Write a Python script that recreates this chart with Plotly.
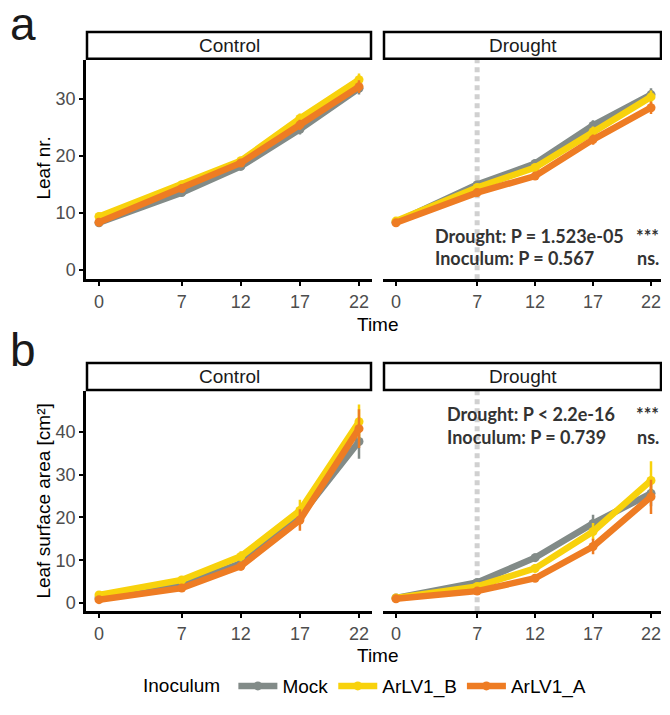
import plotly.graph_objects as go

times = [0, 7, 12, 17, 22]
series_names = ["Mock", "ArLV1_B", "ArLV1_A"]
series_colors = ["#828b88", "#f8d20c", "#ee7c23"]

# Leaf number (a)
leaf_ctrl_mock = [8.2, 13.5, 18.1, 24.6, 31.8]
leaf_ctrl_B = [9.3, 14.9, 19.1, 26.5, 33.3]
leaf_ctrl_A = [8.3, 14.2, 18.7, 25.4, 32.1]
leaf_dr_mock = [8.3, 14.9, 18.6, 25.3, 30.7]
leaf_dr_B = [8.5, 14.4, 17.9, 24.2, 30.3]
leaf_dr_A = [8.2, 13.5, 16.4, 22.8, 28.4]
leaf_err = [0.4, 0.5, 0.6, 0.9, 1.1]

# Leaf surface area (b)
area_ctrl_mock = [1.2, 4.2, 9.3, 20.2, 37.7]
area_ctrl_B = [1.9, 5.4, 10.9, 21.6, 42.3]
area_ctrl_A = [0.8, 3.5, 8.6, 19.4, 40.7]
area_dr_mock = [1.2, 4.8, 10.6, 18.6, 25.6]
area_dr_B = [1.2, 3.9, 8.1, 16.7, 28.6]
area_dr_A = [1.0, 2.8, 5.8, 13.2, 24.8]
area_ctrl_err_mock = [0.2, 0.5, 1.0, 2.0, 4.0]
area_ctrl_err_B = [0.3, 0.6, 1.2, 2.5, 4.0]
area_ctrl_err_A = [0.2, 0.5, 1.0, 2.5, 4.5]
area_dr_err_mock = [0.2, 0.5, 1.0, 2.0, 3.0]
area_dr_err_B = [0.2, 0.5, 1.0, 2.0, 4.5]
area_dr_err_A = [0.2, 0.4, 0.8, 1.8, 4.0]

# page body has an 8px margin; figure fills the rest of the window
OFF = 8
W, H = 670 - 2 * OFF, 715 - 2 * OFF
def px(x): return min(max((x - OFF) / W, 0), 1)
def py(y): return min(max(1 - (y - OFF) / H, 0), 1)

fig = go.Figure()

panels = [
    ("x", "y", [leaf_ctrl_mock, leaf_ctrl_B, leaf_ctrl_A], [leaf_err] * 3, True),
    ("x2", "y2", [leaf_dr_mock, leaf_dr_B, leaf_dr_A], [leaf_err] * 3, False),
    ("x3", "y3", [area_ctrl_mock, area_ctrl_B, area_ctrl_A],
     [area_ctrl_err_mock, area_ctrl_err_B, area_ctrl_err_A], False),
    ("x4", "y4", [area_dr_mock, area_dr_B, area_dr_A],
     [area_dr_err_mock, area_dr_err_B, area_dr_err_A], False),
]

for xa, ya, vals, errs, show in panels:
    for name, color, v, e in zip(series_names, series_colors, vals, errs):
        fig.add_trace(go.Scatter(
            x=times, y=v, xaxis=xa, yaxis=ya, name=name, mode="lines+markers",
            line=dict(color=color, width=6.5),
            marker=dict(color=color, size=9),
            error_y=dict(type="data", array=e, color=color, thickness=2.5, width=0),
            showlegend=show, legendgroup=name,
        ))

DR_RIGHT = 670 - OFF - 1
ctrl_x = [px(86), px(372)]
dr_x = [px(383), px(DR_RIGHT)]
top_y = [py(280), py(60)]
bot_y = [py(613), py(392)]
ctrl_range = [-1.1, 23.1]
# drought panel: tick 0 at x=396, tick 22 at x=651 (kept inside the page)
dr_ppu = (651 - 396) / 22
dr_range = [(383 - 396) / dr_ppu, (DR_RIGHT - 396) / dr_ppu]

tickfont = dict(family="Liberation Sans, Arial", size=18, color="#4d4d4d")
xcommon = dict(tickvals=times, ticks="outside", ticklen=4, tickwidth=2,
               tickcolor="black", showline=True, linecolor="black", linewidth=2.5,
               showgrid=False, zeroline=False, tickfont=tickfont)
ycommon = dict(ticks="outside", ticklen=4, tickwidth=2, tickcolor="black", showgrid=False,
               zeroline=False, tickfont=tickfont)

fig.update_layout(
    width=W, height=H, margin=dict(l=0, r=0, t=0, b=0),
    plot_bgcolor="white", paper_bgcolor="white",
    xaxis=dict(domain=ctrl_x, anchor="y", range=ctrl_range, **xcommon),
    xaxis2=dict(domain=dr_x, anchor="y2", range=dr_range, **xcommon),
    xaxis3=dict(domain=ctrl_x, anchor="y3", range=ctrl_range, **xcommon),
    xaxis4=dict(domain=dr_x, anchor="y4", range=dr_range, **xcommon),
    yaxis=dict(domain=top_y, anchor="x", range=[-1.7, 36.8], tickvals=[0, 10, 20, 30],
               showline=True, linecolor="black", linewidth=2.5, **ycommon),
    yaxis2=dict(domain=top_y, anchor="x2", range=[-1.7, 36.8], showticklabels=False,
                showline=False, ticks="", showgrid=False, zeroline=False),
    yaxis3=dict(domain=bot_y, anchor="x3", range=[-1.9, 49.5], tickvals=[0, 10, 20, 30, 40],
                showline=True, linecolor="black", linewidth=2.5, **ycommon),
    yaxis4=dict(domain=bot_y, anchor="x4", range=[-1.9, 49.5], showticklabels=False,
                showline=False, ticks="", showgrid=False, zeroline=False),
    legend=dict(orientation="h", x=px(141), xanchor="left", y=py(688), yanchor="middle",
                font=dict(family="Liberation Sans, Arial", size=19, color="black"),
                title=dict(text="Inoculum ", font=dict(family="Liberation Sans, Arial", size=19)),
                traceorder="normal", itemwidth=39),
    showlegend=True,
)

shapes = []
annotations = []
stripfont = dict(family="Liberation Sans, Arial", size=19, color="#1a1a1a")
for (x0, x1), (sy0, sy1), label in [
    ((86, 372), (31, 60), "Control"), ((383, DR_RIGHT + 1), (31, 60), "Drought"),
    ((86, 372), (363, 392), "Control"), ((383, DR_RIGHT + 1), (363, 392), "Drought")]:
    shapes.append(dict(type="rect", xref="paper", yref="paper", x0=px(x0 + 1), x1=px(x1 - 1),
                       y0=py(sy1 - 1), y1=py(sy0 + 1), line=dict(color="black", width=2.5),
                       fillcolor="white", layer="above"))
    annotations.append(dict(text=label, xref="paper", yref="paper", x=px((x0 + x1) / 2),
                            y=py((sy0 + sy1) / 2), showarrow=False, xanchor="center",
                            yanchor="middle", font=stripfont))

# dashed vertical line at day 7 in drought panels
for xa in ["x2", "x4"]:
    shapes.append(dict(type="line", xref=xa, yref=xa.replace("x", "y") + " domain",
                       x0=7, x1=7, y0=0, y1=1, line=dict(color="#d0d0d0", width=5, dash="5px,4px"),
                       layer="below"))
fig.update_layout(shapes=shapes)

bold = dict(family="Lato, Open Sans", size=18, color="#333333")
stats = [
    (433, 237, "<b>Drought: P = 1.523e-05</b>", "<b>***</b>"),
    (433, 259, "<b>Inoculum: P = 0.567</b>", "<b>ns.</b>"),
    (445, 415, "<b>Drought: P < 2.2e-16</b>", "<b>***</b>"),
    (445, 438, "<b>Inoculum: P = 0.739</b>", "<b>ns.</b>"),
]
for x, y, t, s in stats:
    annotations.append(dict(text=t, xref="paper", yref="paper", x=px(x), y=py(y),
                            xanchor="left", yanchor="middle", showarrow=False, font=bold))
    annotations.append(dict(text=s, xref="paper", yref="paper", x=px(661), y=py(y),
                            xanchor="right", yanchor="middle", showarrow=False, font=bold))

axfont = dict(family="Liberation Sans, Arial", size=19, color="black")
for y in [325, 657]:
    annotations.append(dict(text="Time", xref="paper", yref="paper", x=px(378), y=py(y),
                            showarrow=False, xanchor="center", yanchor="middle", font=axfont))
annotations.append(dict(text="Leaf nr.", xref="paper", yref="paper", x=px(44), y=py(169),
                        showarrow=False, textangle=-90, xanchor="center", yanchor="middle",
                        font=axfont))
annotations.append(dict(text="Leaf surface area [cm²]", xref="paper", yref="paper", x=px(44),
                        y=py(503), showarrow=False, textangle=-90, xanchor="center",
                        yanchor="middle", font=axfont))
panel_font = dict(family="Liberation Sans, Arial", size=46, color="#1a1a1a")
annotations.append(dict(text="a", xref="paper", yref="paper", x=px(8), y=py(24), showarrow=False,
                        xanchor="left", yanchor="middle", font=panel_font))
annotations.append(dict(text="b", xref="paper", yref="paper", x=px(8), y=py(351), showarrow=False,
                        xanchor="left", yanchor="middle", font=panel_font))
fig.update_layout(annotations=annotations)

fig.write_html("out.html")
